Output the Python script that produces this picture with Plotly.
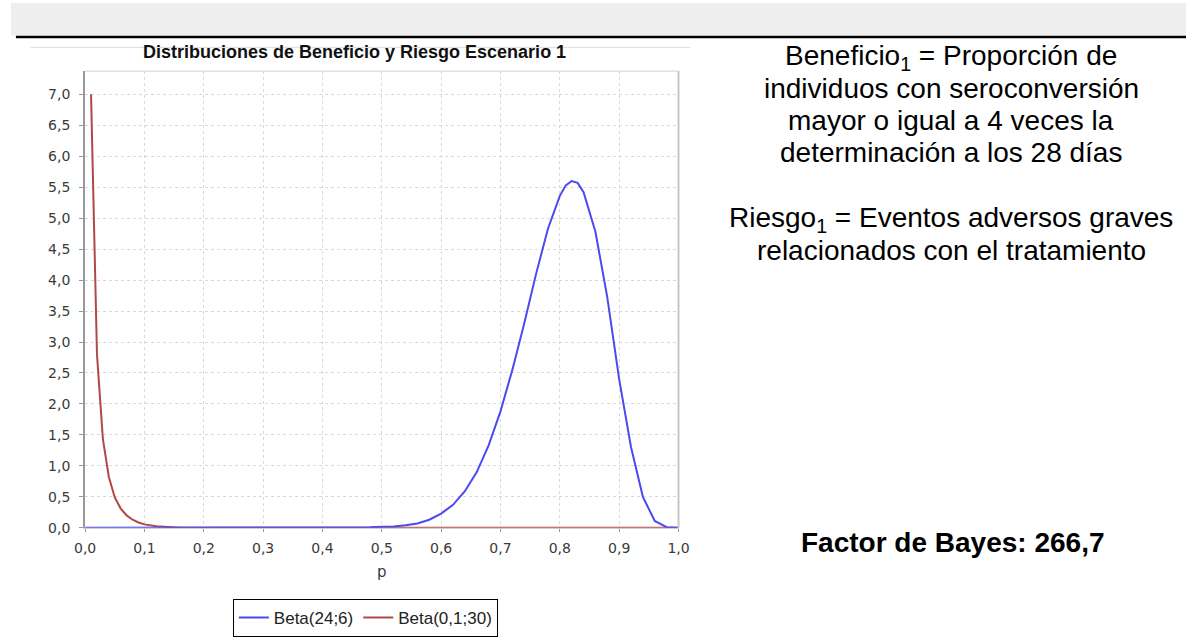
import plotly.graph_objects as go

W, H = 1197, 637

# ---- data ----
blue_name = "Beta(24;6)"
blue_p = [0.0, 0.45, 0.48, 0.50, 0.52, 0.54, 0.56, 0.58, 0.60, 0.62, 0.64, 0.66, 0.68,
          0.70, 0.72, 0.74, 0.76, 0.78, 0.80, 0.81, 0.82, 0.83, 0.84, 0.86, 0.88,
          0.90, 0.92, 0.94, 0.96, 0.98, 1.0]
blue_d = [0.0, 0.0, 0.01, 0.015, 0.02, 0.04, 0.07, 0.13, 0.23, 0.37, 0.59, 0.9, 1.33,
          1.88, 2.55, 3.3, 4.1, 4.83, 5.36, 5.53, 5.6, 5.57, 5.42, 4.78, 3.72,
          2.4, 1.3, 0.5, 0.11, 0.01, 0.0]

red_name = "Beta(0,1;30)"
red_p = [0.01, 0.02, 0.03, 0.04, 0.05, 0.06, 0.07, 0.08, 0.09, 0.10, 0.12, 0.14, 0.155, 0.16, 1.0]
red_d = [7.0, 2.8, 1.43, 0.82, 0.49, 0.31, 0.2, 0.13, 0.085, 0.055, 0.025, 0.011, 0.005, 0.0, 0.0]

x_ticks = [0.0, 0.1, 0.2, 0.3, 0.4, 0.5, 0.6, 0.7, 0.8, 0.9, 1.0]
y_ticks = [0.0, 0.5, 1.0, 1.5, 2.0, 2.5, 3.0, 3.5, 4.0, 4.5, 5.0, 5.5, 6.0, 6.5, 7.0]

chart_title = "Distribuciones de Beneficio y Riesgo Escenario 1"
x_title = "p"
right_lines_1 = ["Beneficio<sub>1</sub> = Proporción de",
                 "individuos con seroconversión",
                 "mayor o igual a 4 veces la",
                 "determinación a los 28 días"]
right_lines_2 = ["Riesgo<sub>1</sub> = Eventos adversos graves",
                 "relacionados con el tratamiento"]
bayes_text = "<b>Factor de Bayes: 266,7</b>"


def px_x(v):
    return v / W


def px_y(v):
    return 1 - v / H


fig = go.Figure()
fig.add_trace(go.Scatter(x=red_p, y=red_d, mode="lines", name=red_name,
                         line=dict(color="#b04848", width=2)))
fig.add_trace(go.Scatter(x=blue_p, y=blue_d, mode="lines", name=blue_name,
                         line=dict(color="#4a4af0", width=2)))

plot_l, plot_r, plot_t, plot_b = 75.5, 680, 72, 534.5
ymax = (plot_b - plot_t) / ((plot_b - 95.5) / 7.0)

tick_font = dict(family="DejaVu Sans", size=14, color="#3a3a3a")

fig.update_layout(
    width=W, height=H,
    margin=dict(l=0, r=0, t=0, b=0),
    paper_bgcolor="white", plot_bgcolor="white",
    separators=",.",
    showlegend=True,
    legend=dict(orientation="h", traceorder="reversed",
                x=px_x(226), xanchor="left", y=px_y(607), yanchor="top",
                bordercolor="#000000", borderwidth=1, bgcolor="white",
                font=dict(family="Liberation Sans, Arial", size=17, color="#222222"),
                itemwidth=30, tracegroupgap=0),
    xaxis=dict(domain=[px_x(plot_l), px_x(plot_r)], range=[0, 1],
               tickvals=x_ticks, tickformat=".1f", tickfont=tick_font,
               ticks="outside", ticklen=3, tickcolor="#999999", ticklabelstandoff=4,
               showgrid=True, gridcolor="#d9d9d9", griddash="dot", gridwidth=1,
               zeroline=False, showline=True, linecolor="#cfcfcf", linewidth=1,
               fixedrange=True),
    yaxis=dict(domain=[px_y(plot_b), px_y(plot_t)], range=[0, ymax],
               tickvals=y_ticks, tickformat=".1f", tickfont=tick_font,
               ticks="outside", ticklen=4, tickcolor="#999999", ticklabelstandoff=6,
               showgrid=True, gridcolor="#d9d9d9", griddash="dot", gridwidth=1,
               zeroline=False, showline=True, linecolor="#999999", linewidth=2,
               fixedrange=True),
)

shapes = [
    # top grey band
    dict(type="rect", xref="paper", yref="paper", x0=0, x1=1,
         y0=px_y(36), y1=px_y(3), fillcolor="#eeeeee", line=dict(width=0), layer="below"),
    # black rule
    dict(type="line", xref="paper", yref="paper", x0=px_x(5), x1=1,
         y0=px_y(37.5), y1=px_y(37.5), line=dict(color="#000000", width=2.5)),
    # faint chart border line
    dict(type="line", xref="paper", yref="paper", x0=px_x(20), x1=px_x(692),
         y0=px_y(48), y1=px_y(48), line=dict(color="#dddddd", width=1)),
    # plot frame top and right
    dict(type="line", xref="paper", yref="paper", x0=px_x(plot_l), x1=px_x(plot_r),
         y0=px_y(plot_t), y1=px_y(plot_t), line=dict(color="#d0d0d0", width=1)),
    dict(type="line", xref="paper", yref="paper", x0=px_x(plot_r), x1=px_x(plot_r),
         y0=px_y(plot_t), y1=px_y(plot_b), line=dict(color="#c8c8c8", width=2)),
]
fig.update_layout(shapes=shapes)

ann = []
ann.append(dict(text="<b>" + chart_title + "</b>", x=px_x(350), y=px_y(53),
                xref="paper", yref="paper", showarrow=False, xanchor="center", yanchor="middle",
                font=dict(family="Liberation Sans, Arial", size=18, color="#111111")))
ann.append(dict(text=x_title, x=px_x(377.75), y=px_y(579),
                xref="paper", yref="paper", showarrow=False, xanchor="center", yanchor="middle",
                font=dict(family="DejaVu Sans", size=15, color="#3a3a3a")))
rt_font = dict(family="Liberation Sans, Arial", size=28, color="#000000")
for txt, yy in zip(right_lines_1, [58, 90, 122, 154]):
    ann.append(dict(text=txt, x=px_x(958), y=px_y(yy), xref="paper", yref="paper",
                    showarrow=False, xanchor="center", yanchor="middle", font=rt_font))
for txt, yy in zip(right_lines_2, [222, 254]):
    ann.append(dict(text=txt, x=px_x(958), y=px_y(yy), xref="paper", yref="paper",
                    showarrow=False, xanchor="center", yanchor="middle", font=rt_font))
ann.append(dict(text=bayes_text, x=px_x(960), y=px_y(549), xref="paper", yref="paper",
                showarrow=False, xanchor="center", yanchor="middle", font=rt_font))
fig.update_layout(annotations=ann)

fig.write_html("out.html", config={"displayModeBar": False},
               post_script="document.body.style.margin='0';")
